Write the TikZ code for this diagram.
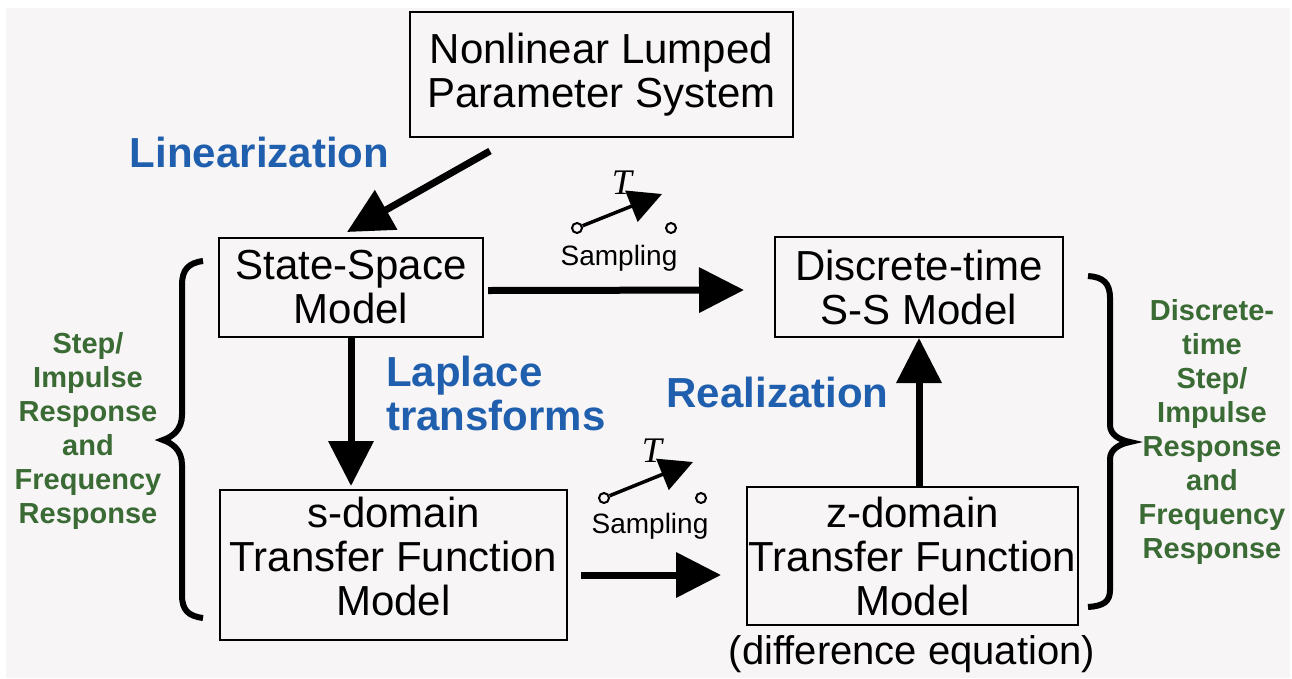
\documentclass[tikz,border=0pt]{standalone}
\usepackage{fontspec}
\setmainfont{Liberation Sans}
\newfontfamily\tserif{Liberation Serif}
\usetikzlibrary{arrows.meta,calc}
\definecolor{bg}{HTML}{F7F5F6}
\definecolor{lblue}{HTML}{1F5FAD}
\definecolor{lgreen}{HTML}{3A6B34}
\begin{document}
\begin{tikzpicture}[x=1pt,y=-1pt,
  box/.style={draw, line width=2pt, align=center, font=\fontsize{42}{44}\selectfont, inner sep=0pt},
  bigarrow/.style={line width=7pt, -{Triangle[length=45pt,width=44pt]}},
  lbl/.style={text=lblue, font=\bfseries\fontsize{42}{44}\selectfont, align=left, inner sep=0pt},
  side/.style={text=lgreen, font=\bfseries\fontsize{29}{34}\selectfont, align=center, inner sep=0pt},
  swarrow/.style={line width=3.5pt, -{Triangle[length=33pt,width=33pt]}},
  term/.style={circle, draw, line width=2pt, fill=bg, minimum size=10pt, inner sep=0pt},
  samp/.style={font=\fontsize{28}{30}\selectfont, inner sep=0pt},
  tlbl/.style={font=\tserif\itshape\fontsize{36}{36}\selectfont, inner sep=0pt},
  brace/.style={line width=6pt}]
\useasboundingbox (0,0) rectangle (1292,678);
\fill[bg] (6,8) rectangle (1290,678);

% boxes
\node[box, minimum width=383pt, minimum height=125pt] (top) at (601.5,74.5) {Nonlinear Lumped\\Parameter System};
\node[box, minimum width=264pt, minimum height=99pt] (ss) at (351,287.5) {State-Space\\Model};
\node[box, minimum width=288pt, minimum height=100pt] (dss) at (919,287) {Discrete-time\\S-S Model};
\node[box, minimum width=347pt, minimum height=150pt] (stf) at (393.5,565) {s-domain\\Transfer Function\\Model\rule[-17pt]{0pt}{0pt}};
\node[box, minimum width=331pt, minimum height=138pt] (ztf) at (912.5,556) {z-domain\\Transfer Function\\Model};
\node[font=\fontsize{40}{44}\selectfont, inner sep=0pt] (de) at (912,654) {(difference equation)};

% labels
\node[lbl] (lin) at (259.5,152) {Linearization};
\node[lbl, anchor=west] (lap) at (386,393) {Laplace\\transforms};
\node[lbl] (real) at (777.5,392) {Realization};
\node[side] (lresp) at (88,431) {Step/\\Impulse\\Response\\and\\Frequency\\Response};
\node[side] (rresp) at (1212,432) {Discrete-\\time\\Step/\\Impulse\\Response\\and\\Frequency\\Response};

% sampling switch 1
\node[term] (s1a) at (577,228) {};
\node[term] (s1b) at (671,228) {};
\coordinate (s1t) at (662,194);
\draw[swarrow] (s1a) -- (s1t);
\node[tlbl] (T1) at (622,183) {T};
\node[samp] (smp1) at (619,258) {Sampling};

% sampling switch 2
\node[term] (s2a) at (604,498) {};
\node[term] (s2b) at (701,498) {};
\coordinate (s2t) at (693,462);
\draw[swarrow] (s2a) -- (s2t);
\node[tlbl] (T2) at (652,451) {T};
\node[samp] (smp2) at (650,526) {Sampling};

% main arrows
\draw[bigarrow] ($(top.south)+(-111.5,13)$) -- ($(ss.north)+(-4,-5)$);
\draw[bigarrow] ($(ss.east)+(4,3)$) -- ($(dss.west)+(-30,3)$);
\draw[bigarrow] (ss.south) -- ($(stf.north -| ss.south)+(0,-3)$);
\draw[bigarrow] ($(stf.east)+(13,10)$) -- ($(ztf.west)+(-25,19)$);
\draw[bigarrow] (ztf.north -| dss.south) -- (dss.south);

% braces
\draw[brace] (203,261) .. controls (188,263) and (182,270) .. (182,285) -- (182,415)
  .. controls (182,430) and (172,437) .. (163,440)
  .. controls (172,443) and (182,450) .. (182,465) -- (182,595)
  .. controls (182,610) and (188,616) .. (203,618);
\draw[brace] (1088,276) .. controls (1103,277) and (1110,283) .. (1110,298) -- (1110,425)
  .. controls (1110,435) and (1120,440) .. (1130,442)
  .. controls (1120,444) and (1110,449) .. (1110,459) -- (1110,590)
  .. controls (1110,602) and (1103,606) .. (1088,607);
\end{tikzpicture}
\end{document}
